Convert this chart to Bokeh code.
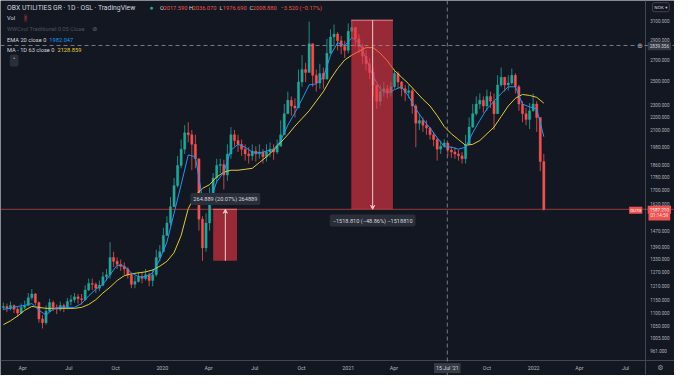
import pandas as pd
from bokeh.plotting import figure
from bokeh.models import (Range1d, FixedTicker, PrintfTickFormatter, Label, Span,
                          Arrow, VeeHead, ColumnDataSource)
from bokeh.embed import file_html
from bokeh.resources import INLINE

# ---------------- data (weekly bars) ----------------
week_end = pd.date_range("2019-02-22", periods=153, freq="7D")
first_open = 1120.0
close = [1124.3, 1116.7, 1128.2, 1112.9, 1097.9, 1120.5, 1128.2, 1159.3, 1175.2, 1139.8,
         1075.6, 1061.1, 1105.4, 1139.8, 1120.5, 1112.9, 1128.2, 1116.7, 1143.7, 1151.4,
         1163.3, 1155.4, 1151.4, 1191.3, 1220.1, 1216.0, 1199.5, 1211.8, 1249.5, 1258.0,
         1337.6, 1319.5, 1306.0, 1297.1, 1284.0, 1258.0, 1216.0, 1228.4, 1249.5, 1241.0,
         1258.0, 1232.6, 1258.0, 1337.6, 1365.2, 1446.5, 1512.0, 1602.1, 1726.6, 1854.7,
         1965.1, 2082.2, 2068.1, 1998.9, 1899.4, 1532.7, 1384.0, 1512.0, 1657.6, 1774.4,
         1854.7, 1861.0, 1792.6, 1932.0, 2068.1, 2026.3, 1998.9, 1965.1, 1932.0, 1918.9,
         1951.8, 1932.0, 1945.2, 1912.4, 1945.2, 1965.1, 1945.2, 1985.3, 2068.1, 2228.9,
         2337.7, 2290.5, 2274.9, 2494.0, 2607.0, 2580.4, 2857.8, 2554.1, 2485.5, 2571.6,
         2519.6, 2762.2, 2926.8, 2956.8, 2887.2, 2828.7, 2790.5, 2986.7, 3027.0, 2906.9,
         2828.7, 2734.0, 2660.7, 2580.4, 2468.7, 2329.8, 2410.5, 2435.3, 2402.3, 2451.9,
         2571.6, 2494.0, 2435.3, 2402.3, 2418.7, 2290.5, 2154.3, 2176.4, 2139.7, 2118.0,
         2068.1, 2033.2, 1965.1, 1985.3, 2008.9, 1958.4, 1945.2, 1932.0, 1918.9, 1899.4,
         1998.9, 2125.2, 2228.9, 2306.1, 2337.7, 2290.5, 2369.8, 2329.8, 2228.9, 2468.7,
         2536.8, 2468.7, 2485.5, 2554.1, 2451.9, 2306.1, 2228.9, 2183.9, 2251.8, 2306.1,
         2198.8, 1880.1, 1587.2]
high = [1139.8, 1135.9, 1143.7, 1132.1, 1124.3, 1135.9, 1147.5, 1179.2, 1195.4, 1179.2,
        1143.7, 1090.4, 1128.2, 1155.4, 1147.5, 1132.1, 1143.7, 1135.9, 1159.3, 1171.2,
        1179.2, 1175.2, 1175.2, 1211.8, 1241.0, 1241.0, 1224.3, 1232.6, 1271.0, 1284.0,
        1412.5, 1365.2, 1337.6, 1328.5, 1315.0, 1292.8, 1266.6, 1253.8, 1271.0, 1266.6,
        1284.0, 1266.6, 1284.0, 1374.5, 1398.1, 1486.5, 1548.4, 1657.6, 1774.4, 1918.9,
        2033.2, 2139.7, 2161.7, 2103.6, 2068.1, 1899.4, 1548.4, 1564.4, 1715.0, 1804.8,
        1899.4, 1899.4, 1893.0, 1998.9, 2125.2, 2103.6, 2068.1, 2033.2, 1998.9, 1978.5,
        1998.9, 1985.3, 1998.9, 1965.1, 1998.9, 2012.5, 1998.9, 2033.2, 2176.4, 2306.1,
        2410.5, 2369.8, 2353.7, 2607.0, 2743.6, 2669.8, 3090.0, 2857.8, 2607.0, 2660.7,
        2624.7, 2906.9, 3007.6, 3059.2, 2977.1, 2936.9, 2887.3, 3070.0, 3106.0, 3027.9,
        2956.9, 2857.8, 2790.5, 2715.6, 2624.7, 2468.7, 2468.7, 2494.0, 2468.7, 2494.0,
        2607.0, 2589.2, 2502.5, 2468.7, 2468.7, 2435.3, 2306.1, 2228.9, 2198.8, 2176.4,
        2125.2, 2089.3, 2047.0, 2026.3, 2036.1, 1998.9, 1985.3, 1978.5, 1958.4, 1945.2,
        2068.1, 2198.8, 2306.1, 2369.8, 2394.3, 2369.8, 2427.1, 2410.5, 2394.3, 2554.1,
        2624.7, 2536.8, 2554.1, 2615.8, 2571.6, 2468.7, 2329.8, 2274.9, 2314.0, 2394.3,
        2329.8, 2103.6, 1932.0]
low = [1109.1, 1101.6, 1109.1, 1097.9, 1083.0, 1094.1, 1112.9, 1128.2, 1151.4, 1128.2,
       1061.1, 1039.7, 1053.8, 1101.6, 1105.4, 1094.1, 1105.4, 1101.6, 1112.9, 1128.2,
       1139.8, 1135.9, 1132.1, 1147.5, 1187.3, 1191.3, 1179.2, 1187.3, 1207.7, 1232.6,
       1241.0, 1292.8, 1284.0, 1275.3, 1258.0, 1241.0, 1199.5, 1199.5, 1224.3, 1220.1,
       1232.6, 1207.7, 1207.7, 1249.5, 1319.5, 1365.2, 1446.5, 1496.6, 1602.1, 1715.0,
       1835.8, 1932.0, 2012.5, 1823.4, 1835.8, 1471.3, 1322.3, 1365.2, 1471.3, 1629.6,
       1744.4, 1804.8, 1703.3, 1756.3, 1899.4, 1985.3, 1945.2, 1918.9, 1886.5, 1867.3,
       1886.5, 1880.1, 1899.4, 1867.3, 1880.1, 1912.4, 1893.0, 1932.0, 1998.9, 2068.1,
       2251.8, 2213.8, 2198.8, 2306.1, 2451.9, 2494.0, 2580.4, 2451.9, 2410.5, 2435.3,
       2435.3, 2519.6, 2762.2, 2828.7, 2790.5, 2752.8, 2715.6, 2762.2, 2906.9, 2828.7,
       2762.2, 2660.7, 2598.1, 2519.6, 2369.8, 2267.1, 2290.5, 2369.8, 2353.7, 2369.8,
       2435.3, 2435.3, 2369.8, 2329.8, 2353.7, 2228.9, 1978.5, 2103.6, 2089.3, 2068.1,
       2033.2, 1985.3, 1886.5, 1932.0, 1976.7, 1918.9, 1905.9, 1899.4, 1886.5, 1867.3,
       1867.3, 1998.9, 2118.0, 2213.8, 2267.1, 2236.5, 2251.8, 2274.9, 2103.6, 2274.9,
       2451.9, 2410.5, 2418.7, 2468.7, 2394.3, 2251.8, 2161.7, 2139.7, 2110.8, 2244.1,
       2089.3, 1817.2, 1580.0]
# indicator lines read every second week
ema20 = [1112.9, 1116.7, 1124.3, 1128.2, 1135.9, 1109.1, 1090.4, 1112.9, 1120.5, 1120.5,
         1120.5, 1135.9, 1167.2, 1195.4, 1216.0, 1258.0, 1301.6, 1297.1, 1266.6, 1249.5,
         1249.5, 1266.6, 1328.5, 1412.5, 1564.4, 1732.6, 1925.4, 1912.4, 1646.4, 1624.1,
         1750.4, 1811.0, 1958.4, 1998.9, 1978.5, 1945.2, 1938.6, 1951.8, 1965.1, 2026.3,
         2139.7, 2236.5, 2345.7, 2468.7, 2477.1, 2536.8, 2743.6, 2867.6, 2838.4, 2916.8,
         2867.6, 2715.6, 2545.4, 2435.3, 2394.3, 2427.1, 2451.9, 2369.8, 2267.1, 2183.9,
         2118.0, 2047.0, 1982.0, 1978.5, 1965.1, 1978.5, 2082.2, 2176.4, 2267.1, 2329.8,
         2394.3, 2451.9, 2451.9, 2306.1, 2282.7, 2267.1, 2054.0]
ma63 = [1053.8, 1068.3, 1086.7, 1109.1, 1124.3, 1120.5, 1116.7, 1116.7, 1116.7, 1116.7,
        1116.7, 1120.5, 1132.1, 1151.4, 1179.2, 1203.6, 1232.6, 1253.8, 1262.3, 1266.6,
        1271.0, 1279.6, 1297.1, 1319.5, 1360.5, 1446.5, 1591.3, 1669.0, 1709.2, 1732.6,
        1780.4, 1811.0, 1823.4, 1823.4, 1829.6, 1835.8, 1873.7, 1912.4, 1958.4, 2012.5,
        2068.1, 2132.5, 2191.2, 2251.8, 2329.8, 2410.5, 2519.6, 2615.8, 2697.2, 2743.6,
        2781.0, 2818.0, 2818.0, 2762.2, 2688.0, 2598.1, 2536.8, 2477.1, 2410.5, 2345.7,
        2290.5, 2213.8, 2128.9, 2075.1, 2033.2, 1992.1, 1998.9, 2026.3, 2075.1, 2125.2,
        2206.3, 2290.5, 2353.7, 2386.1, 2378.0, 2361.8, 2314.0]
ind_dates = week_end[::2]

price_ticks = [3100, 2900, 2700, 2500, 2300, 2200, 2100, 1980, 1860, 1780, 1700, 1620,
               1470, 1390, 1330, 1270, 1210, 1150, 1100, 1050, 1005, 961]
x_tick_dates = ["2019-04-01", "2019-07-01", "2019-10-01", "2020-01-01", "2020-04-01",
                "2020-07-01", "2020-10-01", "2021-01-01", "2021-04-01", "2021-10-01",
                "2022-01-01", "2022-04-01", "2022-07-01"]
x_tick_labels = ["Apr", "Jul", "Oct", "2020", "Apr", "Jul", "Oct", "2021", "Apr", "Oct",
                 "2022", "Apr", "Jul"]

last_price = 1587.21
cross_date, cross_price = "2021-07-15", 2839.356
box_start = ["2020-04-10", "2021-01-07"]
box_end = ["2020-05-27", "2021-03-30"]
box_mid = ["2020-05-04", "2021-02-18"]
box_from = [1322.321, 3106.02]
box_to = [1587.21, 1587.21]
box_text = ["264.889 (20.07%) 264889", "\u22121518.810 (\u221248.86%) \u22121518810"]

# ---------------- layout ----------------
BG = "#131722"
UP, DOWN = "#26a69a", "#ef5350"
W, H = 674, 375
FONT = "Roboto"
DAY = 86400000.0
X_START, X_END = pd.Timestamp("2019-02-16 08:00"), pd.Timestamp("2022-10-05 07:00")
Y_LOW, Y_HIGH = 879.8, 3331.0
PRICE_SCALE_AT = pd.Timestamp("2022-08-08 14:00")   # separator of the price scale
TIME_SCALE_AT = 927.5                               # separator of the time scale


def ms(s):
    return pd.Timestamp(s).value / 1e6


def SX(xr):
    return xr * W / 690.0


def SY(yr):
    return H - yr * H / 391.0


p = figure(width=W, height=H, x_axis_type="datetime", y_axis_type="log",
           y_axis_location="right",
           x_range=Range1d(X_START, X_END), y_range=Range1d(Y_LOW, Y_HIGH),
           output_backend="svg", toolbar_location=None,
           min_border_left=0, min_border_right=0, min_border_top=0, min_border_bottom=0,
           background_fill_color=BG, border_fill_color=BG, outline_line_color=None)
p.grid.visible = False

yax = p.yaxis[0]
yax.ticker = FixedTicker(ticks=price_ticks)
yax.formatter = PrintfTickFormatter(format="%.3f")
yax.fixed_location = ms(PRICE_SCALE_AT)
xax = p.xaxis[0]
xax.ticker = FixedTicker(ticks=[ms(d) for d in x_tick_dates])
xax.major_label_overrides = {int(ms(d)): t for d, t in zip(x_tick_dates, x_tick_labels)}
xax.fixed_location = TIME_SCALE_AT
for ax, fs, so in ((yax, "4.6px", 5), (xax, "5.3px", 4)):
    ax.major_label_text_font = FONT
    ax.major_label_text_font_size = fs
    ax.major_label_text_color = "#b2b5be"
    ax.major_tick_line_color = None
    ax.minor_tick_line_color = None
    ax.major_tick_in = 0
    ax.major_tick_out = 0
    ax.minor_tick_in = 0
    ax.minor_tick_out = 0
    ax.major_label_standoff = so
    ax.axis_line_color = "#434651"

# ---------------- candles ----------------
opens = [first_open] + close[:-1]
src = ColumnDataSource(dict(
    t=week_end,
    wh=[max(h, o, c) for h, o, c in zip(high, opens, close)],
    wl=[min(l, o, c) for l, o, c in zip(low, opens, close)],
    top=[max(o, c) for o, c in zip(opens, close)],
    bot=[min(o, c) for o, c in zip(opens, close)],
    col=[UP if c >= o else DOWN for o, c in zip(opens, close)],
))
p.segment(x0="t", y0="wl", x1="t", y1="wh", line_color="col", line_width=0.8, source=src)
p.vbar(x="t", width=4.4 * DAY, top="top", bottom="bot", fill_color="col",
       line_color="col", line_width=0.4, source=src)

p.line(ind_dates, ma63, line_color="#e2cb34", line_width=1)
p.line(ind_dates, ema20, line_color="#2196f3", line_width=1)

# current price line and crosshair
p.add_layout(Span(location=last_price, dimension="width", line_color=DOWN,
                  line_alpha=0.6, line_width=1))
p.add_layout(Span(location=cross_price, dimension="width", line_color="#8f939e",
                  line_alpha=0.8, line_width=1, line_dash="4 3"))
p.add_layout(Span(location=ms(cross_date), dimension="height", line_color="#8f939e",
                  line_alpha=0.8, line_width=1, line_dash="4 3"))

# measurement boxes
p.quad(left=[ms(d) for d in box_start], right=[ms(d) for d in box_end],
       bottom=[min(a, b) for a, b in zip(box_from, box_to)],
       top=[max(a, b) for a, b in zip(box_from, box_to)],
       fill_color="#f23645", fill_alpha=0.6, line_color=None)
p.segment(x0=[ms(d) for d in box_start], x1=[ms(d) for d in box_end],
          y0=[max(a, b) for a, b in zip(box_from, box_to)],
          y1=[max(a, b) for a, b in zip(box_from, box_to)],
          line_color="#f08a92", line_width=1)
for m, a, b in zip(box_mid, box_from, box_to):
    p.add_layout(Arrow(x_start=ms(m), y_start=a, x_end=ms(m), y_end=b,
                       line_color="#f6c9cc", line_width=1,
                       end=VeeHead(size=4, line_color="#f6c9cc", fill_color="#f6c9cc",
                                   line_width=1)))
for m, t, yr in zip(box_mid, box_text, [207.0, 229.5]):
    p.add_layout(Label(x=ms(m), y=SY(yr), x_units="data", y_units="screen", text=t,
                       text_font=FONT, text_font_size="5.6px", text_color="#d1d4dc",
                       text_align="center", text_baseline="middle",
                       background_fill_color="#2a2e39", padding=3, border_radius=2))


def lab(text, xr, yr, size, color, align="left", font=FONT, **kw):
    p.add_layout(Label(x=SX(xr), y=SY(yr), x_units="screen", y_units="screen", text=text,
                       text_font=font, text_font_size=f"{size}px", text_color=color,
                       text_align=align, text_baseline="middle", **kw))


# legend / header
lab("OBX UTILITIES GR \u00b7 1D \u00b7 OSL \u00b7 TradingView", 6.7, 7.3, 6.8, "#d1d4dc")
lab("\u25cf", 152.7, 7.3, 6.5, "#22ab94")
for t, xr, c in (("O", 163.3, "#d1d4dc"), ("2017.590", 166.9, DOWN),
                 ("H", 193.0, "#d1d4dc"), ("2036.070", 196.6, DOWN),
                 ("L", 224.2, "#d1d4dc"), ("1976.690", 227.6, DOWN),
                 ("C", 254.8, "#d1d4dc"), ("2008.880", 258.3, DOWN),
                 ("\u22123.520 (\u22120.17%)", 286.7, DOWN)):
    lab(t, xr, 7.3, 5.7, c)
lab("Vol", 6.7, 18.3, 5.7, "#d1d4dc")
lab("!", 25.7, 18.3, 5.0, "#f7525f", align="center",
    background_fill_color="#4a1e24", padding=1, border_radius=4)
lab("WWCvol Traditional 0.05 Close", 6.7, 29.3, 5.7, "#4f525d")
lab("\u2298", 96.5, 29.3, 6.0, "#6a6d78", align="center", font="DejaVu Sans")
lab("EMA 20 close 0", 6.7, 40.7, 5.7, "#d1d4dc")
lab("1982.047", 50.0, 40.7, 5.7, "#2196f3")
lab("MA - 1D 63 close 0", 6.7, 51.7, 5.7, "#d1d4dc")
lab("2128.859", 58.3, 51.7, 5.7, "#e8cf36")
lab("\u02c4", 14.0, 62.5, 5.5, "#d1d4dc", align="center", font="DejaVu Sans",
    background_fill_color="#2a2e39", padding=3, border_radius=2)

# price-scale markers
lab("\u2295", 654.5, 47.7, 7.0, "#b2b5be", align="center", font="DejaVu Sans",
    background_fill_color=BG)
lab("2839.356", 674.5, 47.7, 4.6, "#d1d4dc", align="center",
    background_fill_color="#363a45", padding=2)
lab("OUTG", 650.3, 218.6, 4.3, "#ffffff", align="center",
    background_fill_color=DOWN, padding=1)
lab("1587.210", 674.5, 218.3, 4.6, "#ffffff", align="center",
    background_fill_color=DOWN, padding=2)
lab("01:14:59", 674.5, 224.6, 4.6, "#fde2e3", align="center",
    background_fill_color=DOWN, padding=2)
lab("NOK \u25be", 676.0, 7.0, 4.3, "#d1d4dc", align="center", font="DejaVu Sans",
    background_fill_color=BG, border_line_color="#434651", padding=2, border_radius=2)
lab("\u2699", 675.5, 383.3, 7.0, "#9598a1", align="center", font="DejaVu Sans")
p.add_layout(Label(x=ms(cross_date), y=SY(383.3), x_units="data", y_units="screen",
                   text="15 Jul '21", text_font=FONT, text_font_size="5.3px",
                   text_color="#d1d4dc", text_align="center", text_baseline="middle",
                   background_fill_color="#363a45", padding=2))

open("out.html", "w").write(file_html(p, INLINE))
